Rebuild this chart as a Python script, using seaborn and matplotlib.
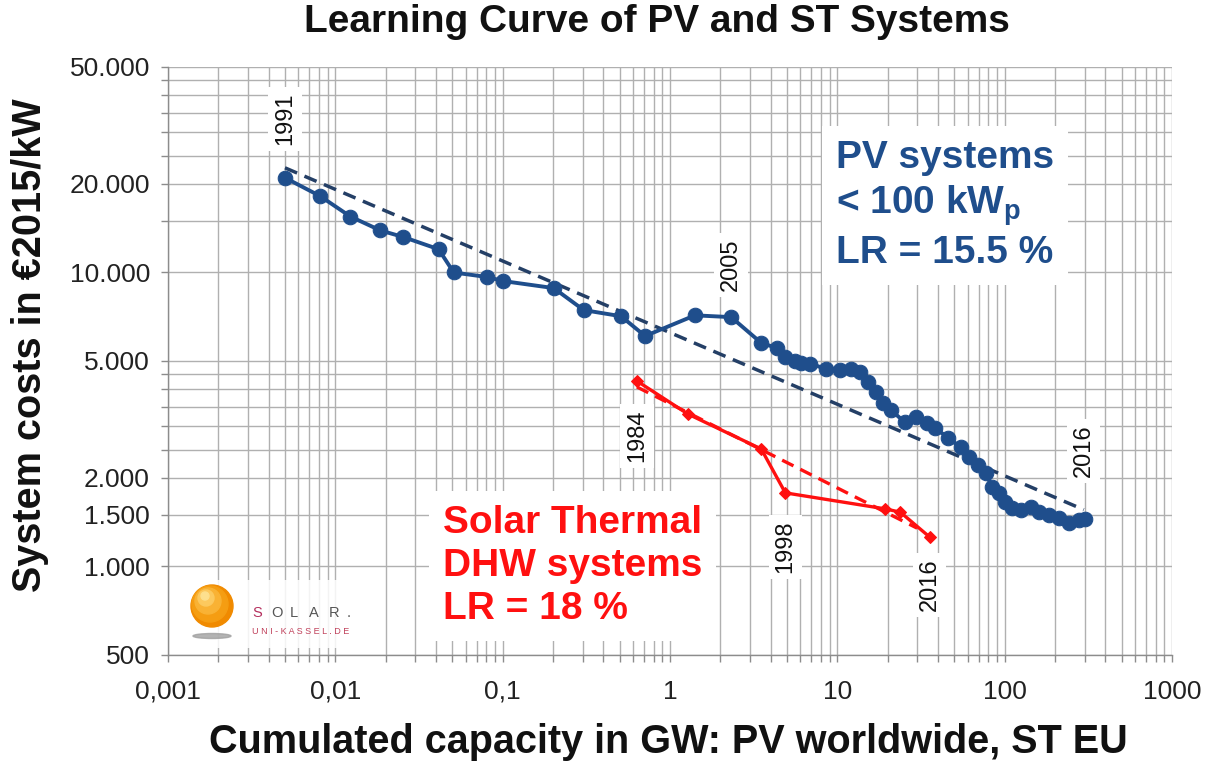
import numpy as np
import pandas as pd
import matplotlib
matplotlib.use("Agg")
import matplotlib.pyplot as plt
import matplotlib.ticker as mticker
from matplotlib.patches import Circle, Ellipse, Rectangle
import seaborn as sns

# ---------------- data ----------------
pv_capacity_gw = [0.005, 0.0081, 0.0123, 0.0186, 0.0255, 0.0414, 0.051, 0.081, 0.101,
                  0.202, 0.305, 0.51, 0.71, 1.41, 2.32, 3.51, 4.37, 4.88, 5.6, 6.1,
                  6.9, 8.5, 10.4, 12.0, 13.7, 15.3, 17.1, 18.8, 21.0, 25.2, 29.7,
                  34.2, 38.6, 46, 54.5, 61.6, 69.7, 77, 84, 92, 101, 110, 126, 143,
                  160, 184, 210, 241, 277, 304]
pv_cost = [21000, 18200, 15500, 13900, 13200, 12000, 10000, 9650, 9350,
           8850, 7450, 7100, 6080, 7150, 7050, 5760, 5530, 5160, 5000, 4930,
           4900, 4700, 4670, 4700, 4590, 4250, 3920, 3600, 3400, 3100, 3220,
           3080, 2960, 2730, 2550, 2350, 2210, 2080, 1870, 1780, 1660, 1580, 1560, 1590,
           1530, 1500, 1460, 1410, 1440, 1450]

st_capacity_gw = [0.634, 1.28, 3.51, 4.89, 19.4, 23.8, 35.6]
st_cost = [4275, 3300, 2510, 1780, 1570, 1530, 1260]

pv_trend_x = [0.005, 297]
pv_trend_y = [22700, 1560]
st_trend_x = [0.634, 30]
st_trend_y = [4080, 1350]

year_labels = ["1991", "2005", "2016", "1984", "1998", "2016"]
year_label_x = [0.005, 2.32, 297, 0.634, 4.89, 35.6]
year_label_y = [33300, 10600, 2470, 2780, 1164, 865]

y_major_ticks = [500, 1000, 1500, 2000, 5000, 10000, 20000, 50000]
y_major_labels = ["500", "1.000", "1.500", "2.000", "5.000", "10.000", "20.000", "50.000"]
y_grid_values = [500, 1000, 1500, 2000, 2500, 3000, 3500, 4000, 4500, 5000,
                 10000, 15000, 20000, 25000, 30000, 35000, 40000, 45000, 50000]
x_major_ticks = [0.001, 0.01, 0.1, 1, 10, 100, 1000]
x_major_labels = ["0,001", "0,01", "0,1", "1", "10", "100", "1000"]

title = "Learning Curve of PV and ST Systems"
xlabel = "Cumulated capacity in GW: PV worldwide, ST EU"
ylabel = "System costs in €2015/kW"
pv_text = "PV systems\n< 100 kW$_\\mathbf{p}$\nLR = 15.5 %"
st_text = "Solar Thermal\nDHW systems\nLR = 18 %"

# ---------------- style ----------------
sns.set_style("white")
plt.rcParams["font.family"] = ["Liberation Sans", "DejaVu Sans"]
plt.rcParams["mathtext.fontset"] = "custom"
plt.rcParams["mathtext.bf"] = "Liberation Sans:bold"
plt.rcParams["mathtext.rm"] = "Liberation Sans"

BLUE = "#1f4e8c"
BLUE_DASH = "#243f66"
RED = "#ff1010"
GRID = "#b0b0b0"

W, H = 1215, 764
fig = plt.figure(figsize=(W / 100, H / 100), dpi=100)
L, R, T, B = 168, 1172, 67, 655
ax = fig.add_axes([L / W, 1 - B / H, (R - L) / W, (B - T) / H])
ax.set_zorder(0)

pv_df = pd.DataFrame({"x": pv_capacity_gw, "y": pv_cost})
st_df = pd.DataFrame({"x": st_capacity_gw, "y": st_cost})
pvt_df = pd.DataFrame({"x": pv_trend_x, "y": pv_trend_y})
stt_df = pd.DataFrame({"x": st_trend_x, "y": st_trend_y})

sns.lineplot(data=stt_df, x="x", y="y", ax=ax, color=RED, lw=2.4,
             linestyle=(0, (3.8, 2.3)), estimator=None, sort=False, zorder=4)
sns.lineplot(data=st_df, x="x", y="y", ax=ax, color=RED, lw=2.4, marker="D",
             markersize=6.5, markeredgecolor=RED, estimator=None, sort=False, zorder=5)
sns.lineplot(data=pvt_df, x="x", y="y", ax=ax, color=BLUE_DASH, lw=2.5,
             linestyle=(0, (3.8, 2.3)), estimator=None, sort=False, zorder=4)
sns.lineplot(data=pv_df, x="x", y="y", ax=ax, color=BLUE, lw=2.8, marker="o",
             markersize=10.5, markeredgecolor=BLUE, estimator=None, sort=False, zorder=6)

ax.set_xscale("log")
ax.set_yscale("log")
ax.set_xlim(0.001, 1000)
ax.set_ylim(500, 50000)

ax.yaxis.set_major_locator(mticker.FixedLocator(y_major_ticks))
ax.yaxis.set_major_formatter(mticker.FixedFormatter(y_major_labels))
ax.yaxis.set_minor_locator(mticker.FixedLocator([v for v in y_grid_values if v not in y_major_ticks]))
ax.yaxis.set_minor_formatter(mticker.NullFormatter())
ax.xaxis.set_major_locator(mticker.FixedLocator(x_major_ticks))
ax.xaxis.set_major_formatter(mticker.FixedFormatter(x_major_labels))
ax.xaxis.set_minor_locator(mticker.LogLocator(base=10, subs=np.arange(2, 10)))
ax.xaxis.set_minor_formatter(mticker.NullFormatter())

ax.grid(True, which="both", color=GRID, lw=1.0)
ax.set_axisbelow(True)
for s in ["top", "right"]:
    ax.spines[s].set_visible(False)
for s in ["left", "bottom"]:
    ax.spines[s].set_color("#8c8c8c")
    ax.spines[s].set_linewidth(1.0)

ax.tick_params(axis="both", which="both", direction="out", length=5, width=1.0,
               color="#8c8c8c", left=True, bottom=True)
ax.tick_params(axis="y", which="major", labelsize=19, pad=8, labelcolor="#222222")
ax.tick_params(axis="x", which="major", labelsize=19, pad=13, labelcolor="#222222")
ax.set_xlabel("")
ax.set_ylabel("")

# axis titles
fig.text(657 / W, 1 - 22 / H, title, ha="center", va="center", fontsize=28,
         fontweight="bold", color="#111111")
fig.text(668 / W, 1 - 742 / H, xlabel, ha="center", va="center", fontsize=28.5,
         fontweight="bold", color="#111111")
fig.text(30 / W, 1 - 345 / H, ylabel, ha="center", va="center", fontsize=28.5,
         fontweight="bold", rotation=90, color="#111111")

# year labels
for lab, xv, yv in zip(year_labels, year_label_x, year_label_y):
    ax.text(xv, yv, lab, rotation=90, ha="center", va="center", fontsize=17,
            color="#111111", zorder=7,
            bbox=dict(facecolor="white", edgecolor="none", pad=4))

# big text blocks
ax.text((836 - L) / (R - L), (B - 140) / (B - T), pv_text, transform=ax.transAxes,
        ha="left", va="top", fontsize=28, fontweight="bold", color=BLUE,
        linespacing=1.25, zorder=7,
        bbox=dict(facecolor="white", edgecolor="none", pad=10))
ax.text((443 - L) / (R - L), (B - 505) / (B - T), st_text, transform=ax.transAxes,
        ha="left", va="top", fontsize=28, fontweight="bold", color=RED,
        linespacing=1.25, zorder=7,
        bbox=dict(facecolor="white", edgecolor="none", pad=10))

# logo
fig.patches.append(Rectangle((182 / W, 1 - 648 / H), 170 / W, 68 / H,
                             transform=fig.transFigure, facecolor="white",
                             edgecolor="none", alpha=0.85, zorder=1))
lax = fig.add_axes([185 / W, 1 - 645 / H, 55 / W, 65 / H])
lax.set_zorder(5)
lax.patch.set_alpha(0)
lax.set_xlim(0, 55)
lax.set_ylim(0, 65)
lax.set_aspect("equal")
lax.axis("off")
lax.add_patch(Ellipse((27, 9), 38, 5, color="#a0a0a0", alpha=0.8))
lax.add_patch(Circle((27, 39), 21, color="#f08a00"))
lax.add_patch(Circle((25, 41), 18, color="#f59d12"))
lax.add_patch(Circle((23, 44), 13, color="#f9b234"))
lax.add_patch(Circle((21, 47), 8, color="#fcc95e"))
lax.add_patch(Circle((20, 49), 4, color="#fde08e"))

logo_letters = ["S", "O", "L", "A", "R", "."]
logo_x = [252, 271, 290, 309, 329, 347]
for i, (ch, px) in enumerate(zip(logo_letters, logo_x)):
    fig.text(px / W, 1 - 613 / H, ch, ha="left", va="center", fontsize=10.5,
             color="#b5305e" if i == 0 else "#555555", zorder=6)
fig.text(252 / W, 1 - 632 / H, "U N I - K A S S E L . D E", ha="left", va="center",
         fontsize=6.5, color="#c0405a", zorder=6)

fig.savefig("out.png", dpi=100)
